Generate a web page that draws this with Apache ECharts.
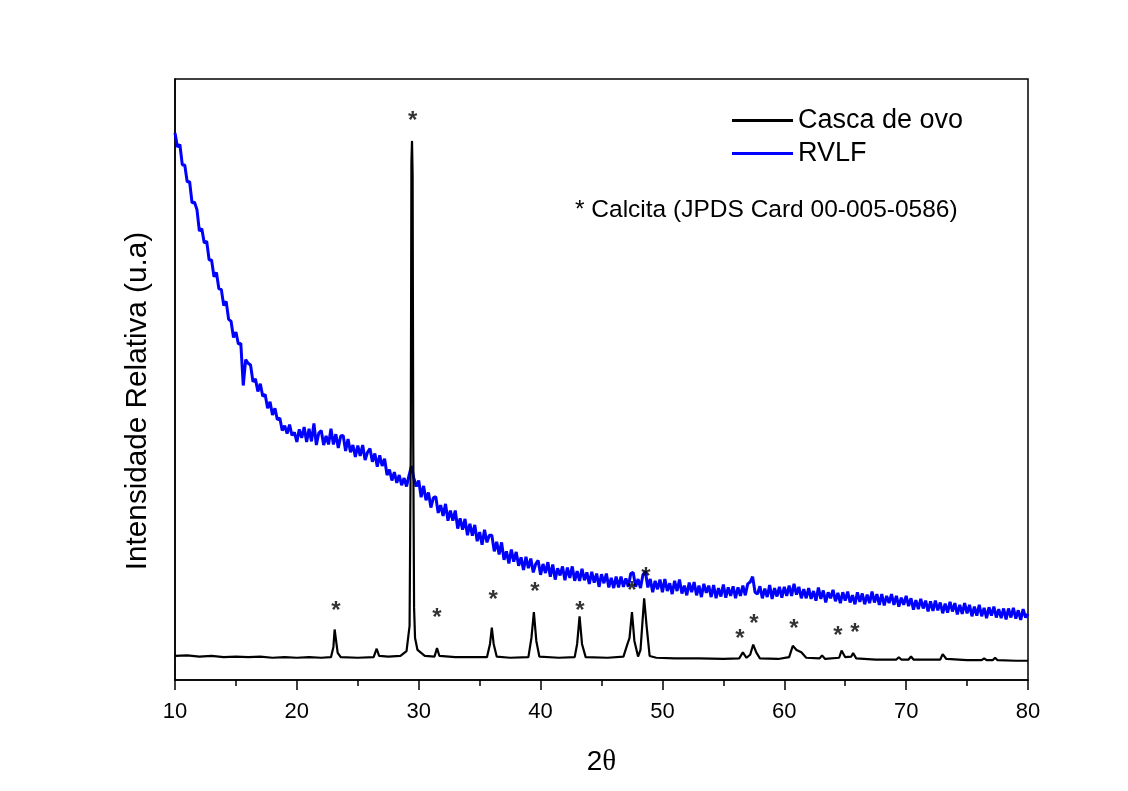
<!DOCTYPE html>
<html>
<head>
<meta charset="utf-8">
<script src="https://cdn.jsdelivr.net/npm/echarts@6/dist/echarts.min.js"></script>
<style>html,body{margin:0;padding:0;background:#fff;}#c{width:1128px;height:791px;}</style>
</head>
<body>
<div id="c"></div>
<script>
// ---- Data ----
const xTicks = [10, 20, 30, 40, 50, 60, 70, 80];
const seriesNames = ['Casca de ovo', 'RVLF'];
const calcitaNote = '* Calcita (JPDS Card 00-005-0586)';

// Casca de ovo (eggshell) pattern: 2θ and relative intensity
const cascaX = [10,11,12,13,14,15,16,17,18,19,20,21,22,22.8,23.0,23.1,23.2,23.35,23.6,25,26.3,26.55,26.75,27.5,28.5,29.0,29.25,29.35,29.4,29.45,29.5,29.55,29.62,29.7,29.9,30.5,31.3,31.5,31.7,33,34.5,35.6,35.85,36.0,36.15,36.4,37.5,39.0,39.25,39.45,39.65,39.9,41.5,42.8,43.0,43.2,43.4,43.7,45.5,46.8,47.1,47.3,47.5,47.7,48.0,48.2,48.5,48.7,48.95,49.5,51,53,55,56.3,56.6,56.9,57.2,57.45,57.7,58.0,59.5,60.4,60.7,61.0,61.4,61.8,62.9,63.1,63.35,64.5,64.7,65.0,65.5,65.65,65.9,67.5,69.2,69.4,69.6,70.2,70.4,70.6,72.8,73.0,73.3,75,76.2,76.4,76.6,77.1,77.3,77.5,79,80];
const cascaY = [4.0,4.1,3.9,4.0,3.8,3.9,3.8,3.9,3.7,3.8,3.7,3.8,3.7,3.8,5.5,8.4,8.3,4.5,3.8,3.7,3.8,5.2,4.0,3.9,4.0,4.8,9,40,86,89.7,84,40,12,7,5.0,4.0,3.9,5.3,4.0,3.8,3.8,3.8,6,8.7,6,3.9,3.7,3.8,7,11.3,6.5,3.9,3.7,3.8,6,10.6,6,3.8,3.7,3.9,5.8,7,11.3,6.5,3.9,5,13.6,9,4.0,3.7,3.6,3.6,3.5,3.6,4.6,3.7,4.2,5.9,4.6,3.6,3.5,3.8,5.7,5.0,4.6,3.7,3.6,4.1,3.5,3.7,4.9,3.8,3.9,4.5,3.6,3.4,3.4,3.8,3.4,3.4,3.9,3.4,3.4,4.3,3.5,3.3,3.3,3.6,3.3,3.3,3.7,3.3,3.2,3.2];

// RVLF pattern: 2θ from 10 to 80 in 0.2 steps
const rvlfStart = 10, rvlfStep = 0.2;
const rvlfY = [
91.0,88.7,89.1,85.7,85.7,82.9,82.9,79.4,79.5,78.3,
74.7,75.1,72.7,73.0,69.9,69.9,67.1,67.8,65.1,65.0,
62.3,63.0,60.0,59.7,57.0,57.9,55.9,56.0,49.0,53.3,
52.7,52.4,49.6,50.1,48.0,49.3,47.2,47.5,45.2,46.3,
44.1,45.2,43.3,43.6,41.5,42.3,41.0,42.5,40.7,41.2,
39.6,41.7,40.3,42.1,39.6,41.8,39.7,42.7,39.1,41.1,
41.5,39.1,40.6,39.2,41.8,39.2,40.9,38.6,40.6,40.7,
38.1,40.1,37.9,39.1,37.1,39.0,37.3,39.1,36.6,37.9,
38.5,36.3,37.7,35.5,37.4,35.6,36.8,34.1,35.0,33.2,
34.6,32.8,34.1,32.4,33.6,32.2,34.0,35.6,33.6,32.2,
33.2,30.4,32.3,29.9,31.2,28.7,30.3,30.5,27.8,29.1,
27.3,29.3,26.5,28.2,26.5,28.2,25.2,26.9,25.0,26.8,
24.1,26.0,24.0,25.8,23.1,24.6,22.5,25.0,22.9,24.1,
24.1,21.4,23.0,20.9,22.9,20.0,21.4,19.4,21.7,19.7,
21.3,19.0,20.4,18.3,20.5,18.6,20.2,17.9,19.3,19.9,
17.5,19.3,17.8,19.6,17.2,19.2,16.7,18.6,17.4,18.9,
16.6,18.7,17.0,18.9,16.5,18.1,16.5,18.5,16.6,17.9,
16.0,18.0,16.2,17.7,15.5,17.6,16.1,17.7,15.4,17.0,
15.3,17.2,15.4,17.2,15.5,16.9,15.5,17.7,17.9,15.5,
16.8,15.3,17.5,18.1,15.4,16.8,14.6,16.5,15.1,16.7,
14.6,16.8,14.8,16.1,14.3,16.5,14.8,16.7,14.4,15.7,
14.1,16.2,14.6,16.3,14.1,15.7,13.8,16.0,14.5,15.7,
13.8,15.8,13.6,15.3,13.9,15.9,13.7,15.4,14.0,15.6,
13.6,15.4,14.0,15.7,14.1,16.0,16.3,17.2,14.6,14.3,
15.6,13.6,15.2,13.8,15.8,13.5,15.3,13.9,15.5,13.7,
15.5,14.0,15.7,14.0,16.0,14.2,15.5,13.6,15.1,13.6,
15.3,13.5,14.8,13.2,15.4,13.5,14.9,12.9,14.6,13.6,
15.0,13.1,14.5,12.8,14.6,13.2,14.7,12.9,14.1,12.6,
14.6,13.0,14.4,12.6,14.2,12.8,14.7,12.9,14.3,12.5,
14.3,12.4,14.0,12.8,14.3,12.5,14.0,12.2,13.7,12.5,
14.0,12.3,13.6,11.7,13.3,11.8,13.5,11.9,13.2,11.4,
13.1,11.5,13.2,11.6,12.9,11.1,12.7,11.2,13.0,11.4,
12.8,10.9,12.5,11.0,12.8,11.1,12.5,10.6,12.2,10.7,
12.5,10.6,12.0,10.3,12.1,10.7,12.2,10.4,11.8,10.3,
11.9,10.1,11.9,10.4,12.0,10.2,11.6,10.0,11.8,10.4,
11.0
];

// Calcite reflection markers (*) placed above peaks
const starX = [23.21, 29.5, 31.5, 36.1, 39.54, 43.23, 47.5, 48.65, 56.36, 57.51, 60.8, 64.4, 65.8];
const starY = [12.5, 94.0, 11.3, 14.3, 15.6, 12.5, 15.8, 18.0, 7.8, 10.3, 9.5, 8.3, 8.8];

// ---- Build ----
const cascaData = cascaX.map((x, i) => [x, cascaY[i]]);
const rvlfData = rvlfY.map((y, i) => [+(rvlfStart + i * rvlfStep).toFixed(2), y]);
const starData = starX.map((x, i) => [x, starY[i]]);

const chart = echarts.init(document.getElementById('c'), null, {renderer: 'canvas'});
const FONT = 'Arial, "Liberation Sans", sans-serif';
chart.setOption({
  animation: false,
  backgroundColor: '#ffffff',
  grid: {left: 175, right: 100, top: 79, bottom: 111, show: true, borderColor: '#000', borderWidth: 1.5, backgroundColor: 'transparent'},
  legend: {
    data: seriesNames,
    orient: 'vertical',
    left: 727, top: 102,
    itemWidth: 61, itemHeight: 14, itemGap: 6,
    icon: 'path://M0,0 L60,0 L60,3 L0,3 Z',
    textStyle: {fontFamily: FONT, fontSize: 27, color: '#000'}
  },
  xAxis: {
    type: 'value', min: 10, max: 80, interval: 10,
    axisLine: {show: true, onZero: false, lineStyle: {color: '#000', width: 1.5}},
    axisTick: {show: true, length: 10, lineStyle: {color: '#000', width: 1.5}},
    minorTick: {show: true, splitNumber: 2, length: 6, lineStyle: {color: '#000', width: 1.5}},
    axisLabel: {margin: 21, fontFamily: FONT, fontSize: 22, color: '#000',
      formatter: v => xTicks.includes(v) ? String(v) : ''},
    splitLine: {show: false},
    name: '{a|2}{b|θ}', nameLocation: 'middle', nameGap: 68,
    nameTextStyle: {rich: {a: {fontFamily: FONT, fontSize: 28, color: '#000'}, b: {fontFamily: '"Liberation Serif", "Times New Roman", serif', fontSize: 29, color: '#000'}}}
  },
  yAxis: {
    type: 'value', min: 0, max: 100,
    axisLine: {show: true, lineStyle: {color: '#000', width: 1.5}},
    axisTick: {show: false}, axisLabel: {show: false}, splitLine: {show: false}
  },
  graphic: [
    {type: 'text', left: 575, top: 198, style: {text: calcitaNote, fontFamily: FONT, fontSize: 24.5, fill: '#000'}},
    {type: 'text', x: 138, y: 401, rotation: Math.PI / 2, style: {text: 'Intensidade Relativa (u.a)', fontFamily: FONT, fontSize: 29.7, fill: '#000', align: 'center', verticalAlign: 'middle'}}
  ],
  series: [
    {name: 'RVLF', type: 'line', data: rvlfData, symbol: 'none', lineStyle: {color: '#0000ff', width: 3}, itemStyle: {color: '#0000ff'}, z: 2},
    {name: 'Casca de ovo', type: 'line', data: cascaData, symbol: 'none', lineStyle: {color: '#000', width: 2.2}, itemStyle: {color: '#000'}, z: 3},
    {name: 'calcita', type: 'scatter', data: starData, symbolSize: 0, silent: true, z: 4,
      label: {show: true, formatter: '*', position: 'inside', offset: [0, 6], fontFamily: FONT, fontWeight: 'bold', fontSize: 24, color: '#000'}}
  ]
});
</script>
</body>
</html>
